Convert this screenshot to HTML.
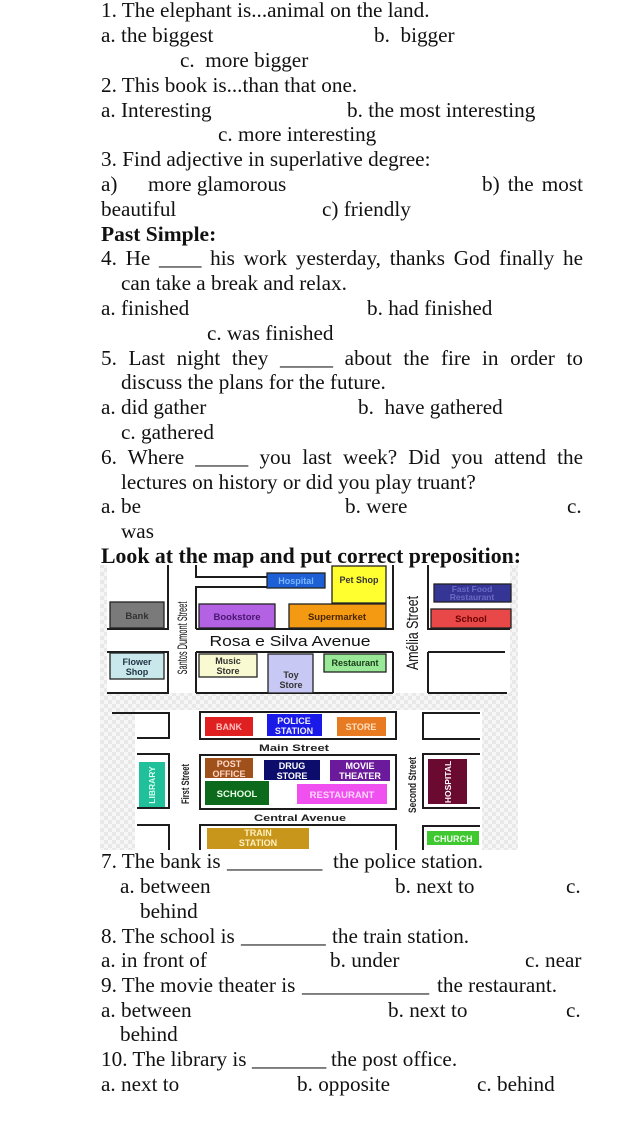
<!DOCTYPE html>
<html>
<head>
<meta charset="utf-8">
<style>
html,body{margin:0;padding:0;background:#fff;}
body{width:623px;height:1136px;position:relative;overflow:hidden;}
svg{position:absolute;left:0;top:0;}
.t{position:absolute;font-family:"Liberation Serif","Times New Roman",serif;font-size:21.2px;line-height:25px;color:#111;white-space:pre;}
.b{font-weight:bold;font-size:21.5px;}
.j{width:482px;text-align:justify;text-align-last:justify;white-space:normal;}
</style>
</head>
<body>
<svg width="623" height="1136" viewBox="0 0 623 1136" xmlns="http://www.w3.org/2000/svg">
<defs>
<pattern id="dots" width="8" height="8" patternUnits="userSpaceOnUse">
<rect width="8" height="8" fill="#f6f6f6"/>
<rect x="0" y="0" width="4" height="4" fill="#e8e8e8"/>
<rect x="4" y="4" width="4" height="4" fill="#e8e8e8"/>
</pattern>
</defs>
<rect x="100" y="565" width="418" height="285" fill="url(#dots)"/>
<rect x="107" y="565" width="403" height="128" fill="#fff"/>
<rect x="135" y="710" width="347" height="140" fill="#fff"/>

<g stroke="#1c1c1c" stroke-width="2" fill="none">
<!-- map 1 -->
<path d="M168 565 V629 M107 629 H169"/>
<path d="M107 652 H169 M168 652 V693 M107 693 H169"/>
<path d="M196 565 V577 H267 M196 629 V587 H267 M196 629 H393 M393 565 V630"/>
<path d="M196 652 H393 M196 652 V693 M393 652 V693 M196 693 H393"/>
<path d="M428 565 V629 H510"/>
<path d="M428 652 H505 M428 652 V693 M428 693 H507"/>
<!-- map 2 -->
<path d="M112 713 H169 V738 H137"/>
<rect x="200" y="712" width="196" height="27"/>
<path d="M480 713 H423 V739 H480"/>
<path d="M137 754 H169 V808 H137"/>
<rect x="200" y="755" width="196" height="54"/>
<path d="M480 754 H423 V808 H480"/>
<path d="M137 825 H169 V850"/>
<path d="M200 850 V825 H396 V850"/>
<path d="M480 826 H423 V850"/>
</g>

<g stroke="#222" stroke-width="1.3">
<rect x="267" y="573" width="58" height="15" fill="#1d5fd4"/>
<rect x="332" y="566" width="54" height="37" fill="#ffff30"/>
<rect x="199" y="604" width="76" height="24" fill="#b262e2"/>
<rect x="289" y="604" width="97" height="24" fill="#f39a12"/>
<rect x="110" y="602" width="54" height="26" fill="#7a7a7a"/>
<rect x="434" y="584" width="77" height="18" fill="#353595"/>
<rect x="431" y="609" width="80" height="19" fill="#e84848"/>
<rect x="110" y="653" width="54" height="26" fill="#c8e8ec"/>
<rect x="199" y="654" width="58" height="23" fill="#fafad2"/>
<rect x="268" y="654" width="45" height="39" fill="#c8c8f4"/>
<rect x="324" y="654" width="62" height="18" fill="#98e898"/>
</g>
<g stroke="none">
<rect x="205" y="717" width="48" height="19" fill="#e02020"/>
<rect x="267" y="714" width="55" height="22" fill="#1a1ae8"/>
<rect x="337" y="717" width="49" height="19" fill="#e87a22"/>
<rect x="205" y="758" width="48" height="20" fill="#a0501a"/>
<rect x="264" y="760" width="56" height="20" fill="#0c0c6c"/>
<rect x="330" y="760" width="60" height="21" fill="#6a1a9a"/>
<rect x="205" y="781" width="64" height="24" fill="#0c6a1c"/>
<rect x="297" y="784" width="90" height="20" fill="#f050f0"/>
<rect x="139" y="762" width="26" height="45" fill="#20c09a"/>
<rect x="428" y="759" width="39" height="45" fill="#6a0a30"/>
<rect x="207" y="828" width="102" height="21" fill="#c8961a"/>
<rect x="427" y="831" width="52" height="14" fill="#40c830"/>
</g>

<g font-family="Liberation Sans, Arial, sans-serif" font-weight="bold" text-anchor="middle">
<text x="296" y="584" font-size="9" fill="#7ab6ff">Hospital</text>
<text x="359" y="583" font-size="9" fill="#333">Pet Shop</text>
<text x="237" y="620" font-size="9.5" fill="#4a1670">Bookstore</text>
<text x="337" y="620" font-size="9.5" fill="#4a2500">Supermarket</text>
<text x="137" y="619" font-size="9.5" fill="#333">Bank</text>
<text x="472" y="592" font-size="8.5" fill="#6a6ac4">Fast Food</text>
<text x="472" y="600" font-size="8.5" fill="#6a6ac4">Restaurant</text>
<text x="471" y="622" font-size="9.5" fill="#6a0000">School</text>
<text x="137" y="665" font-size="9" fill="#234">Flower</text>
<text x="137" y="675" font-size="9" fill="#234">Shop</text>
<text x="228" y="664" font-size="9" fill="#333">Music</text>
<text x="228" y="674" font-size="9" fill="#333">Store</text>
<text x="291" y="678" font-size="9" fill="#333">Toy</text>
<text x="291" y="688" font-size="9" fill="#333">Store</text>
<text x="355" y="666" font-size="9" fill="#1a3a1a">Restaurant</text>

<text x="229" y="730" font-size="9" fill="#ffc0c0">BANK</text>
<text x="294" y="724" font-size="9" fill="#eef">POLICE</text>
<text x="294" y="734" font-size="9" fill="#eef">STATION</text>
<text x="361" y="730" font-size="9" fill="#ffe0c0">STORE</text>
<text x="229" y="767" font-size="9" fill="#ffd8c8">POST</text>
<text x="229" y="777" font-size="9" fill="#ffd8c8">OFFICE</text>
<text x="292" y="769" font-size="9" fill="#fff">DRUG</text>
<text x="292" y="779" font-size="9" fill="#fff">STORE</text>
<text x="360" y="769" font-size="9" fill="#fff">MOVIE</text>
<text x="360" y="779" font-size="9" fill="#fff">THEATER</text>
<text x="237" y="797" font-size="9.5" fill="#e8ffe8">SCHOOL</text>
<text x="342" y="798" font-size="9.5" fill="#ffd8ff">RESTAURANT</text>
<text transform="translate(152,785) rotate(-90)" font-size="8.5" dy="3" fill="#d8fff0">LIBRARY</text>
<text transform="translate(448,782) rotate(-90)" font-size="8.5" dy="3" fill="#fff">HOSPITAL</text>
<text x="258" y="836" font-size="9" fill="#fff0c0">TRAIN</text>
<text x="258" y="846" font-size="9" fill="#fff0c0">STATION</text>
<text x="453" y="842" font-size="9" fill="#f0fff0">CHURCH</text>

<text x="294" y="751" font-size="9.5" fill="#222" textLength="70" lengthAdjust="spacingAndGlyphs">Main Street</text>
<text x="300" y="821" font-size="9.5" fill="#222" textLength="92" lengthAdjust="spacingAndGlyphs">Central Avenue</text>
<text transform="translate(185,784) rotate(-90)" font-size="11" dy="4" fill="#222" textLength="40" lengthAdjust="spacingAndGlyphs">First Street</text>
<text transform="translate(412,785) rotate(-90)" font-size="11" dy="4" fill="#222" textLength="56" lengthAdjust="spacingAndGlyphs">Second Street</text>
</g>
<g font-family="Liberation Sans, Arial, sans-serif" text-anchor="middle" fill="#111">
<text x="290" y="646" font-size="15" textLength="161" lengthAdjust="spacingAndGlyphs">Rosa e Silva Avenue</text>
<text transform="translate(182,638) rotate(-90)" font-size="14" dy="5" textLength="73" lengthAdjust="spacingAndGlyphs">Santos Dumont Street</text>
<text transform="translate(412,633) rotate(-90)" font-size="17" dy="6" textLength="74" lengthAdjust="spacingAndGlyphs">Amélia Street</text>
</g>
</svg>

<div class="t" style="left:101px;top:-1.6px">1. The elephant is...animal on the land.</div>
<div class="t" style="left:101px;top:23.2px">a. the biggest</div>
<div class="t" style="left:374px;top:23.2px">b.  bigger</div>
<div class="t" style="left:180px;top:48px">c.  more bigger</div>
<div class="t" style="left:101px;top:72.8px">2. This book is...than that one.</div>
<div class="t" style="left:101px;top:97.6px">a. Interesting</div>
<div class="t" style="left:347px;top:97.6px">b. the most interesting</div>
<div class="t" style="left:218px;top:122.4px">c. more interesting</div>
<div class="t" style="left:101px;top:147.2px">3. Find adjective in superlative degree:</div>
<div class="t" style="left:101px;top:172px">a)</div>
<div class="t" style="left:148px;top:172px">more glamorous</div>
<div class="t j" style="left:482px;top:172px;width:101px">b) the most</div>
<div class="t" style="left:101px;top:196.8px">beautiful</div>
<div class="t" style="left:322px;top:196.8px">c) friendly</div>
<div class="t b" style="left:101px;top:221.6px">Past Simple:</div>
<div class="t j" style="left:101px;top:246.4px">4. He ____ his work yesterday, thanks God finally he</div>
<div class="t" style="left:121px;top:271.2px">can take a break and relax.</div>
<div class="t" style="left:101px;top:296px">a. finished</div>
<div class="t" style="left:367px;top:296px">b. had finished</div>
<div class="t" style="left:207px;top:320.8px">c. was finished</div>
<div class="t j" style="left:101px;top:345.6px">5. Last night they _____ about the fire in order to</div>
<div class="t" style="left:121px;top:370.4px">discuss the plans for the future.</div>
<div class="t" style="left:101px;top:395.2px">a. did gather</div>
<div class="t" style="left:358px;top:395.2px">b.  have gathered</div>
<div class="t" style="left:121px;top:420px">c. gathered</div>
<div class="t j" style="left:101px;top:444.8px">6. Where _____ you last week? Did you attend the</div>
<div class="t" style="left:121px;top:469.6px">lectures on history or did you play truant?</div>
<div class="t" style="left:101px;top:494.4px">a. be</div>
<div class="t" style="left:345px;top:494.4px">b. were</div>
<div class="t" style="left:567px;top:494.4px">c.</div>
<div class="t" style="left:121px;top:519.2px">was</div>
<div class="t b" style="left:101px;top:544px;font-size:21.8px">Look at the map and put correct preposition:</div>

<div class="t" style="left:101px;top:849.4px">7. The bank is</div>
<div class="t" style="left:227px;top:849.4px">_________</div>
<div class="t" style="left:333px;top:849.4px">the police station.</div>
<div class="t" style="left:120px;top:874.1px">a. between</div>
<div class="t" style="left:395px;top:874.1px">b. next to</div>
<div class="t" style="left:566px;top:874.1px">c.</div>
<div class="t" style="left:140px;top:898.8px">behind</div>
<div class="t" style="left:101px;top:923.5px">8. The school is</div>
<div class="t" style="left:241px;top:923.5px">________</div>
<div class="t" style="left:332px;top:923.5px">the train station.</div>
<div class="t" style="left:101px;top:948.2px">a. in front of</div>
<div class="t" style="left:330px;top:948.2px">b. under</div>
<div class="t" style="left:525px;top:948.2px">c. near</div>
<div class="t" style="left:101px;top:972.9px">9. The movie theater is</div>
<div class="t" style="left:302px;top:972.9px">____________</div>
<div class="t" style="left:437px;top:972.9px">the restaurant.</div>
<div class="t" style="left:101px;top:997.6px">a. between</div>
<div class="t" style="left:388px;top:997.6px">b. next to</div>
<div class="t" style="left:566px;top:997.6px">c.</div>
<div class="t" style="left:120px;top:1022.3px">behind</div>
<div class="t" style="left:101px;top:1047px">10. The library is</div>
<div class="t" style="left:252px;top:1047px">_______</div>
<div class="t" style="left:331px;top:1047px">the post office.</div>
<div class="t" style="left:101px;top:1071.7px">a. next to</div>
<div class="t" style="left:297px;top:1071.7px">b. opposite</div>
<div class="t" style="left:477px;top:1071.7px">c. behind</div>
</body>
</html>
